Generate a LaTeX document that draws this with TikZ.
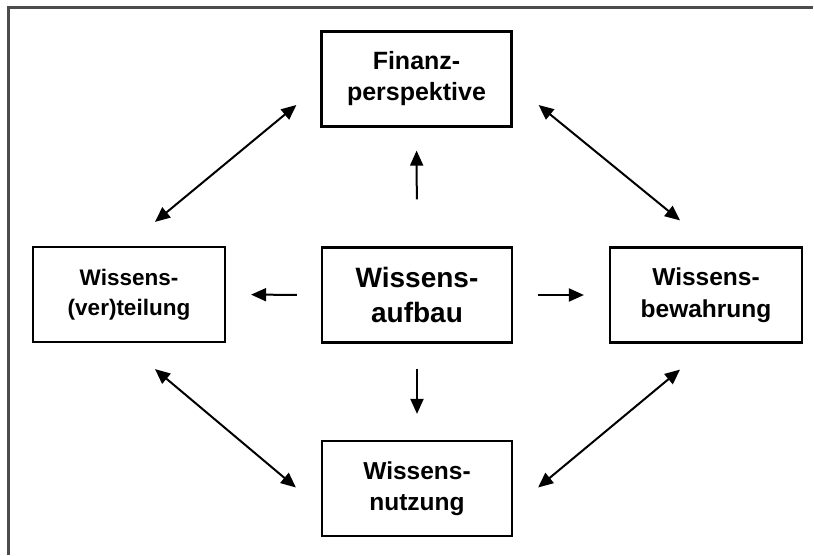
\documentclass[tikz,border=0pt]{standalone}
\usepackage{fontspec}
\setmainfont{Liberation Sans}
\usetikzlibrary{arrows.meta,calc}
\begin{document}
\begin{tikzpicture}[x=1pt,y=-1pt,
  box/.style={draw=black,line width=2.2pt,minimum width=190pt,minimum height=95pt,
    align=center,inner sep=0pt,font=\bfseries},
  conn/.style={line width=2pt,-{Triangle[length=15pt,width=13pt]}},
  dconn/.style={line width=2pt,{Triangle[length=15pt,width=13pt]}-{Triangle[length=15pt,width=13pt]}}]
\useasboundingbox (0,0) rectangle (814,556);
\fill[white] (0,0) rectangle (814,556);
% frame (top and left edges only)
\draw[line width=2.2pt,color=black!70] (8.5,555) -- (8.5,7.5) -- (813,7.5);
% boxes
\node[box,font=\bfseries\fontsize{25}{31}\selectfont] (fin) at (416.5,79) {Finanz-\\perspektive};
\node[box,font=\bfseries\fontsize{28}{35}\selectfont] (au) at (417,295) {Wissens-\\aufbau};
\node[box,minimum width=192pt,font=\bfseries\fontsize{22.5}{30}\selectfont] (vt) at (129,294.5) {\raisebox{6pt}{\parbox{180pt}{\centering Wissens-\\(ver)teilung}}};
\node[box,minimum width=192pt,font=\bfseries\fontsize{24.5}{32}\selectfont] (bw) at (706,295) {\raisebox{3pt}{\parbox{180pt}{\centering Wissens-\\bewahrung}}};
\node[box,font=\bfseries\fontsize{24.5}{31}\selectfont] (nu) at (417,488.5) {Wissens-\\nutzung};
% single arrows from centre
\draw[conn,shorten <=47pt,shorten >=23pt] (au.north) -- (fin.south);
\draw[conn,shorten <=24pt,shorten >=25pt] (au.west) -- (vt.east);
\draw[conn,shorten <=25pt,shorten >=25pt] (au.east) -- (bw.west);
\draw[conn,shorten <=25pt,shorten >=26pt] (au.south) -- (nu.north);
% double arrows
\coordinate (c1) at ($(fin.west)+(-24,26)$);
\coordinate (c2) at ($(vt.north)+(26,-24)$);
\coordinate (c3) at ($(fin.east)+(26,26)$);
\coordinate (c4) at ($(bw.north)+(-26,-26)$);
\coordinate (c5) at ($(vt.south)+(26,26)$);
\coordinate (c6) at ($(nu.west)+(-25,-1)$);
\coordinate (c7) at ($(nu.east)+(25,-1)$);
\coordinate (c8) at ($(bw.south)+(-26,26)$);
\draw[dconn] (c1) -- (c2);
\draw[dconn] (c3) -- (c4);
\draw[dconn] (c5) -- (c6);
\draw[dconn] (c7) -- (c8);
\end{tikzpicture}
\end{document}
